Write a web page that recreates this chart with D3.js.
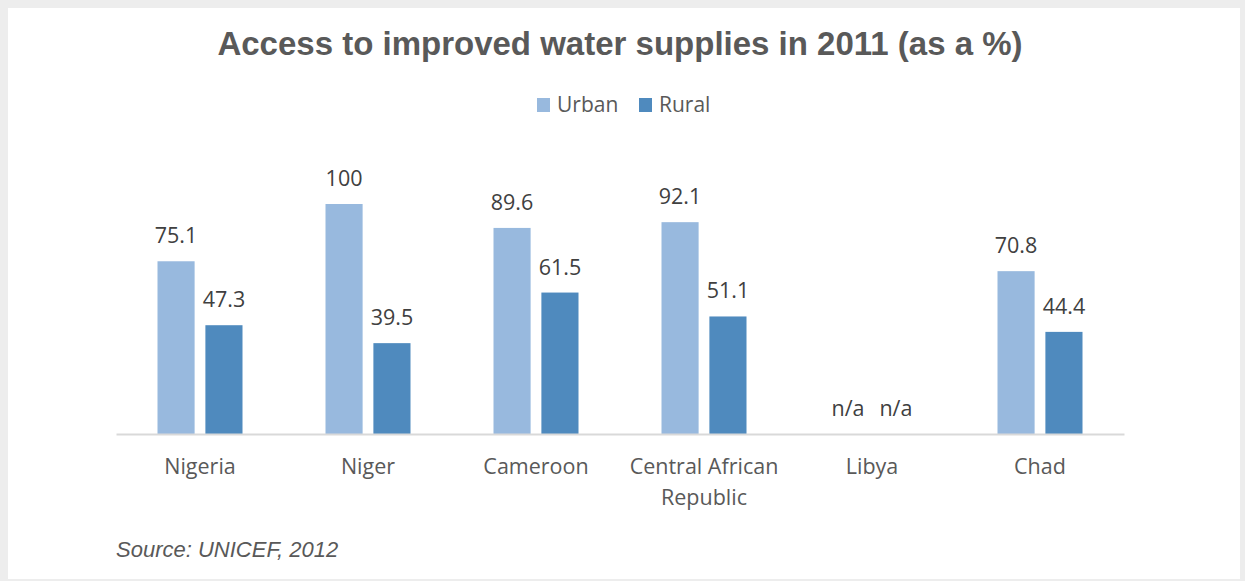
<!DOCTYPE html>
<html>
<head>
<meta charset="utf-8">
<script src="https://cdn.jsdelivr.net/npm/d3@7"></script>
<style>
  html, body { margin: 0; padding: 0; background: #ededed; }
  svg { display: block; }
</style>
</head>
<body>
<div id="chart"></div>
<script>
// chart data
const countries = ["Nigeria", "Niger", "Cameroon", "Central African Republic", "Libya", "Chad"];
const seriesNames = ["Urban", "Rural"];
const urban = [75.1, 100, 89.6, 92.1, null, 70.8];
const rural = [47.3, 39.5, 61.5, 51.1, null, 44.4];
const colors = ["#98b9de", "#4f8abe"];

const w = 1245, h = 581;
const labelFont = "Open Sans, sans-serif";

const svg = d3.select("#chart").append("svg")
    .attr("width", w)
    .attr("height", h);

// white panel
svg.append("rect")
    .attr("x", 8).attr("y", 8)
    .attr("width", 1232).attr("height", 571)
    .attr("fill", "#fff");

// title
svg.append("text")
    .attr("x", 620).attr("y", 55)
    .attr("text-anchor", "middle")
    .attr("font-family", "Liberation Sans, Arial, sans-serif")
    .attr("font-weight", "bold")
    .attr("font-size", 33)
    .attr("fill", "#595959")
    .text("Access to improved water supplies in 2011 (as a %)");

// legend
const legendX = [537, 639];
seriesNames.forEach((name, i) => {
    const g = svg.append("g").attr("transform", `translate(${legendX[i]}, 98)`);
    g.append("rect").attr("width", 13).attr("height", 14).attr("fill", colors[i]);
    g.append("text")
        .attr("x", 20).attr("y", 14)
        .attr("font-family", labelFont)
        .attr("font-size", 21)
        .attr("fill", "#595959")
        .text(name);
});

const x0 = d3.scaleBand()
    .domain(countries)
    .range([116, 1124]);

const x1 = d3.scaleBand()
    .domain(seriesNames)
    .range([x0.bandwidth() / 2 - 42.5, x0.bandwidth() / 2 + 42.5])
    .paddingInner(0.225);

const y = d3.scaleLinear()
    .domain([0, 100])
    .range([434, 204]);

const rows = countries.map((c, i) => ({
    country: c,
    values: [urban[i], rural[i]]
}));

const groups = svg.selectAll("g.country")
    .data(rows)
    .enter()
    .append("g")
    .attr("class", "country")
    .attr("transform", d => `translate(${x0(d.country)}, 0)`);

groups.selectAll("rect")
    .data(d => d.values.map((v, i) => ({ key: seriesNames[i], value: v, i })))
    .enter()
    .append("rect")
    .attr("x", d => x1(d.key))
    .attr("y", d => y(d.value || 0))
    .attr("width", x1.bandwidth())
    .attr("height", d => y(0) - y(d.value || 0))
    .attr("fill", d => colors[d.i]);

groups.selectAll("text.val")
    .data(d => d.values.map((v, i) => ({ key: seriesNames[i], value: v })))
    .enter()
    .append("text")
    .attr("class", "val")
    .attr("x", d => x1(d.key) + x1.bandwidth() / 2)
    .attr("y", d => y(d.value || 0) - 18)
    .attr("text-anchor", "middle")
    .attr("font-family", labelFont)
    .attr("font-size", 21.5)
    .attr("fill", "#404040")
    .text(d => d.value == null ? "n/a" : d.value);

// axis line
const xAxis = svg.append("g")
    .attr("transform", `translate(0, ${y(0)})`)
    .call(d3.axisBottom(x0).tickSize(0).tickFormat(""));
xAxis.select(".domain").attr("stroke", "#d9d9d9").attr("stroke-width", 2);

// category labels (wrapped)
const wrap = { "Central African Republic": ["Central African", "Republic"] };
svg.selectAll("text.cat")
    .data(countries)
    .enter()
    .append("text")
    .attr("class", "cat")
    .attr("x", d => x0(d) + x0.bandwidth() / 2)
    .attr("y", 474)
    .attr("text-anchor", "middle")
    .attr("font-family", labelFont)
    .attr("font-size", 21.5)
    .attr("fill", "#595959")
    .each(function(d) {
        const lines = wrap[d] || [d];
        d3.select(this).selectAll("tspan")
            .data(lines)
            .enter()
            .append("tspan")
            .attr("x", x0(d) + x0.bandwidth() / 2)
            .attr("dy", (_, i) => i === 0 ? 0 : 31)
            .text(l => l);
    });

// source note
svg.append("text")
    .attr("x", 116).attr("y", 557)
    .attr("font-family", "Liberation Sans, Arial, sans-serif")
    .attr("font-style", "italic")
    .attr("font-size", 22)
    .attr("fill", "#595959")
    .text("Source: UNICEF, 2012");
</script>
</body>
</html>
